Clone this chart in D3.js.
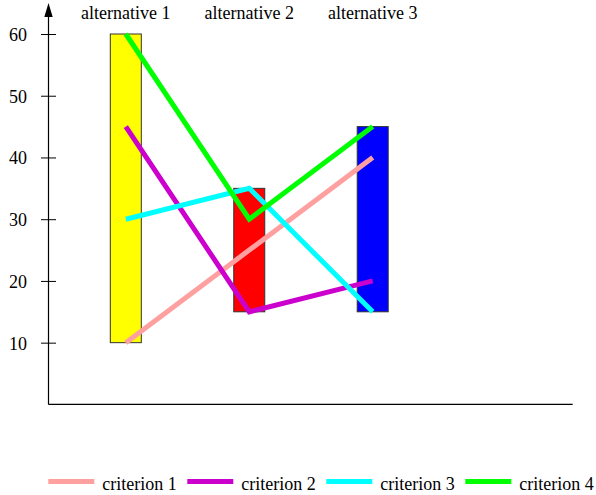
<!DOCTYPE html>
<html>
<head>
<meta charset="utf-8">
<script src="https://cdn.jsdelivr.net/npm/d3@7"></script>
<style>
  html, body { margin: 0; padding: 0; background: #fff; }
  svg { display: block; }
  svg text { font-family: "Liberation Serif", "Times New Roman", Times, serif !important; }
</style>
</head>
<body>
<svg id="chart" width="596" height="495"></svg>
<script>
const alternatives = ["alternative 1", "alternative 2", "alternative 3"];
const barLow  = [10, 15, 15];
const barHigh = [60, 35, 45];
const barColors = ["#ffff00", "#ff0000", "#0000ff"];

const criteria = ["criterion 1", "criterion 2", "criterion 3", "criterion 4"];
const criterion1 = [10, 25, 40];
const criterion2 = [45, 15, 20];
const criterion3 = [30, 35, 15];
const criterion4 = [60, 30, 45];
const criteriaValues = [criterion1, criterion2, criterion3, criterion4];
const criteriaColors = ["#ffa0a0", "#cc00cc", "#00ffff", "#00ff00"];

const yTicks = [10, 20, 30, 40, 50, 60];

const FONT = "Liberation Serif";
const svg = d3.select("#chart");
const axisX = 48.5, axisBottom = 404.4, axisRight = 572.7;

const y = d3.scaleLinear().domain([0, 60]).range([axisBottom, 34]);
const x = d3.scalePoint().domain(alternatives).range([125.8, 372.7]);
const barW = 31;

// y axis ticks
const yAxis = d3.axisLeft(y).tickValues(yTicks).tickSize(7.5).tickPadding(14).tickFormat(d3.format("d"));
const gy = svg.append("g").attr("transform", `translate(${axisX},0)`).call(yAxis)
  .attr("font-family", FONT).attr("font-size", 18);
gy.select(".domain").remove();
gy.selectAll(".tick line").attr("x1", -7.5).attr("x2", 7.5).attr("stroke", "#000");
gy.selectAll(".tick text").attr("font-size", 18).attr("font-family", FONT).attr("fill", "#000").attr("dy", "0.36em");

// axis lines
svg.append("line").attr("x1", axisX).attr("x2", axisX).attr("y1", 16).attr("y2", axisBottom).attr("stroke", "#000").attr("stroke-width", 1.2);
svg.append("path").attr("d", `M${axisX},3 L${axisX - 4.2},17 L${axisX + 4.2},17 Z`).attr("fill", "#000");
svg.append("line").attr("x1", axisX).attr("x2", axisRight).attr("y1", axisBottom).attr("y2", axisBottom).attr("stroke", "#000").attr("stroke-width", 1.2);

// bars
svg.append("g").selectAll("rect").data(alternatives).join("rect")
  .attr("x", d => x(d) - barW / 2)
  .attr("width", barW)
  .attr("y", (d, i) => y(barHigh[i]))
  .attr("height", (d, i) => y(barLow[i]) - y(barHigh[i]))
  .attr("fill", (d, i) => barColors[i])
  .attr("stroke", "#333")
  .attr("stroke-width", 1);

// alternative labels
svg.append("g").selectAll("text").data(alternatives).join("text")
  .attr("x", d => x(d))
  .attr("y", 19)
  .attr("text-anchor", "middle")
  .attr("font-family", FONT)
  .attr("font-size", 18)
  .text(d => d);

// criteria lines
const line = d3.line().x((v, i) => x(alternatives[i])).y(v => y(v));
svg.append("g").selectAll("path").data(criteriaValues).join("path")
  .attr("d", d => line(d))
  .attr("fill", "none")
  .attr("stroke", (d, i) => criteriaColors[i])
  .attr("stroke-width", 5)
  .attr("stroke-linecap", "butt")
  .attr("stroke-linejoin", "miter");

// legend
const lg = svg.append("g").selectAll("g").data(criteria).join("g")
  .attr("transform", (d, i) => `translate(${48.3 + i * 139},481.5)`);
lg.append("line").attr("x1", 0).attr("x2", 46).attr("y1", 0).attr("y2", 0)
  .attr("stroke", (d, i) => criteriaColors[i]).attr("stroke-width", 5);
lg.append("text").attr("x", 54).attr("y", 8.5).attr("font-family", FONT).attr("font-size", 18).text(d => d);
</script>
</body>
</html>
